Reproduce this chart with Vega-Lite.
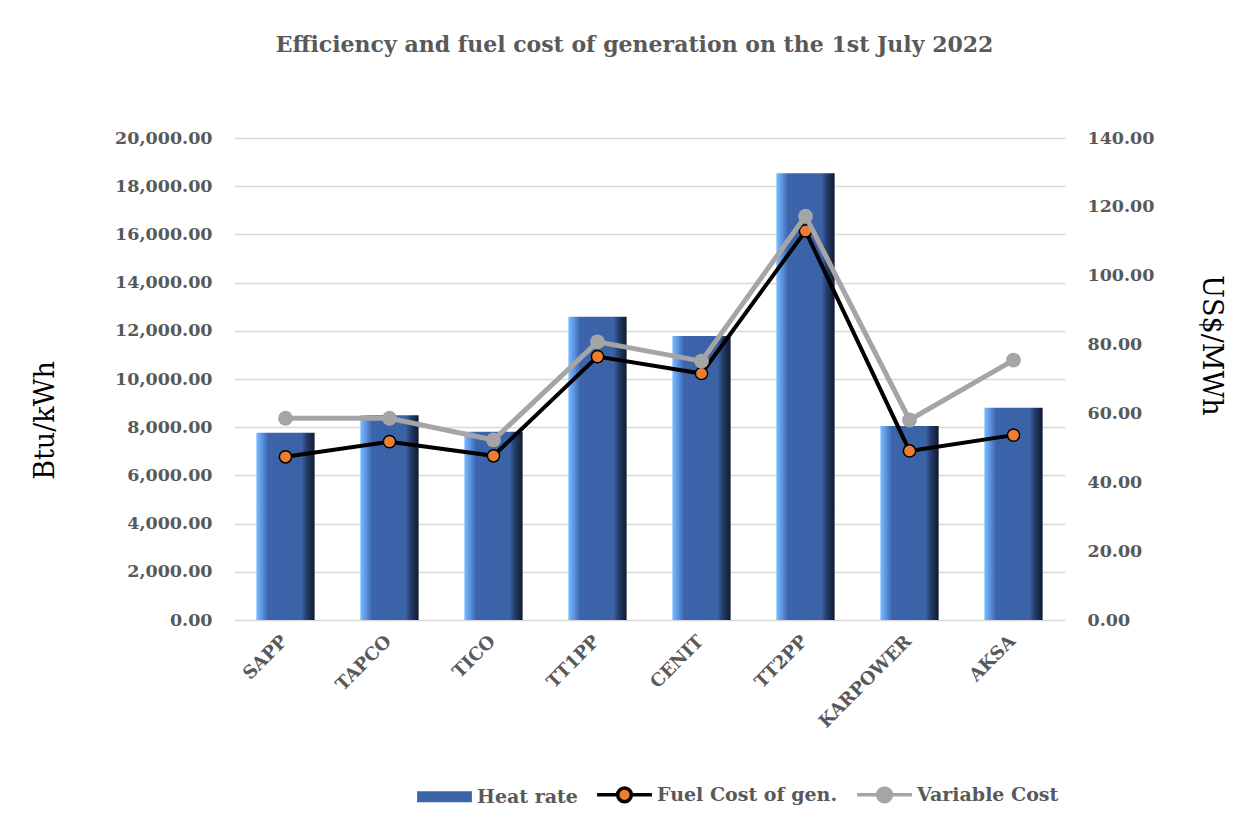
{
  "$schema": "https://vega.github.io/schema/vega-lite/v6.json",
  "autosize": {"type": "none"},
  "width": 831,
  "height": 482,
  "padding": {"left": 234, "top": 138, "right": 195, "bottom": 206},
  "background": "white",
  "title": {
    "text": "Efficiency and fuel cost of generation on the 1st July 2022",
    "font": "DejaVu Serif",
    "fontSize": 22,
    "fontWeight": "bold",
    "color": "#595959",
    "offset": 72,
    "dx": -15
  },
  "data": {
    "values": [
      {"plant": "SAPP", "heat_rate": 7770, "fuel_cost": 47.4, "variable_cost": 58.6},
      {"plant": "TAPCO", "heat_rate": 8500, "fuel_cost": 51.8, "variable_cost": 58.6},
      {"plant": "TICO", "heat_rate": 7810, "fuel_cost": 47.7, "variable_cost": 52.3},
      {"plant": "TT1PP", "heat_rate": 12580, "fuel_cost": 76.5, "variable_cost": 80.8},
      {"plant": "CENIT", "heat_rate": 11780, "fuel_cost": 71.6, "variable_cost": 75.2},
      {"plant": "TT2PP", "heat_rate": 18540, "fuel_cost": 113.0, "variable_cost": 117.3},
      {"plant": "KARPOWER", "heat_rate": 8050, "fuel_cost": 49.1, "variable_cost": 58.1},
      {"plant": "AKSA", "heat_rate": 8810, "fuel_cost": 53.7, "variable_cost": 75.5}
    ]
  },
  "config": {
    "view": {"stroke": null},
    "axis": {
      "labelFont": "DejaVu Serif",
      "labelFontWeight": "bold",
      "labelColor": "#595959",
      "labelFontSize": 17.5,
      "ticks": false,
      "domain": false,
      "titleFont": "DejaVu Serif",
      "titleFontWeight": "normal",
      "titleColor": "#000000",
      "titleFontSize": 27
    }
  },
  "layer": [
    {
      "mark": {
        "type": "bar",
        "fill": {
          "gradient": "linear",
          "x1": 0, "y1": 0, "x2": 1, "y2": 0,
          "stops": [
            {"offset": 0, "color": "#7cbcff"},
            {"offset": 0.1, "color": "#5a93e2"},
            {"offset": 0.2, "color": "#3b64ab"},
            {"offset": 0.78, "color": "#3a62a6"},
            {"offset": 0.86, "color": "#253f6d"},
            {"offset": 1, "color": "#101a2e"}
          ]
        }
      },
      "encoding": {
        "x": {
          "field": "plant",
          "type": "nominal",
          "sort": null,
          "scale": {"paddingInner": 0.44, "paddingOuter": 0.215},
          "axis": {
            "title": null,
            "labelAngle": -45,
            "labelAlign": "right",
            "labelBaseline": "top",
            "labelFontSize": 18,
            "labelPadding": 12,
            "labelOffset": -7
          }
        },
        "y": {
          "field": "heat_rate",
          "type": "quantitative",
          "scale": {"domain": [0, 20000]},
          "axis": {
            "values": [0, 2000, 4000, 6000, 8000, 10000, 12000, 14000, 16000, 18000, 20000],
            "format": ",.2f",
            "grid": true,
            "gridColor": "#d9d9d9",
            "gridWidth": 1.5,
            "labelPadding": 22,
            "title": "Btu/kWh",
            "titleX": -189,
            "titleY": 282,
            "titleAngle": -90,
            "titleAlign": "center",
            "titleBaseline": "middle"
          }
        }
      }
    },
    {
      "encoding": {
        "x": {"field": "plant", "type": "nominal", "sort": null},
        "y": {
          "type": "quantitative",
          "scale": {"domain": [0, 140]},
          "axis": {
            "orient": "right",
            "values": [0, 20, 40, 60, 80, 100, 120, 140],
            "format": ".2f",
            "grid": false,
            "labelPadding": 22,
            "title": "US$/MWh",
            "titleX": 145,
            "titleY": 207,
            "titleAngle": 90,
            "titleAlign": "center",
            "titleBaseline": "middle"
          }
        }
      },
      "layer": [
        {
          "mark": {"type": "line", "strokeWidth": 4},
          "encoding": {
            "y": {"field": "fuel_cost", "type": "quantitative"},
            "color": {
              "datum": "Fuel Cost of gen.",
              "type": "nominal",
              "scale": {
                "domain": ["Heat rate", "Fuel Cost of gen.", "Variable Cost"],
                "range": ["#3b64ab", "#000000", "#a5a5a5"]
              },
              "legend": {
                "orient": "none",
                "legendX": 201,
                "legendY": 647,
                "direction": "horizontal",
                "title": null,
                "labelFont": "DejaVu Serif",
                "labelFontWeight": "bold",
                "labelFontSize": 19,
                "labelColor": "#595959",
                "labelLimit": 400,
                "labelOffset": 23,
                "symbolSize": 3000,
                "columnPadding": 12,
                "encode": {
                  "labels": {
                    "update": {
                      "fontWeight": {"value": "bold"}
                    }
                  },
                  "symbols": {
                    "update": {
                      "shape": {"signal": "datum.value === 'Heat rate' ? 'M-1,-0.2H1V0.2H-1Z' : 'M-1,0H-0.25M0.25,0H1M0.25,0A0.25,0.25 0 1 1 -0.25,0A0.25,0.25 0 1 1 0.25,0Z'"},
                      "fill": {"signal": "datum.value === 'Heat rate' ? '#3b64ab' : (datum.value === 'Fuel Cost of gen.' ? '#ed7d31' : '#a5a5a5')"},
                      "stroke": {"signal": "datum.value === 'Heat rate' ? '#3b64ab' : (datum.value === 'Fuel Cost of gen.' ? '#000000' : '#a5a5a5')"},
                      "strokeWidth": {"signal": "datum.value === 'Heat rate' ? 0 : 3.5"},
                      "opacity": {"value": 1}
                    }
                  }
                }
              }
            }
          }
        },
        {
          "mark": {"type": "point", "shape": "circle", "filled": true, "fill": "#ed7d31", "stroke": "#000000", "strokeWidth": 1.5, "size": 150, "opacity": 1},
          "encoding": {"y": {"field": "fuel_cost", "type": "quantitative"}}
        },
        {
          "mark": {"type": "line", "strokeWidth": 5},
          "encoding": {
            "y": {"field": "variable_cost", "type": "quantitative"},
            "color": {"datum": "Variable Cost", "type": "nominal"}
          }
        },
        {
          "mark": {"type": "point", "shape": "circle", "filled": true, "fill": "#a5a5a5", "strokeWidth": 0, "size": 220, "opacity": 1},
          "encoding": {"y": {"field": "variable_cost", "type": "quantitative"}}
        }
      ]
    }
  ],
  "resolve": {"scale": {"y": "independent"}}
}
